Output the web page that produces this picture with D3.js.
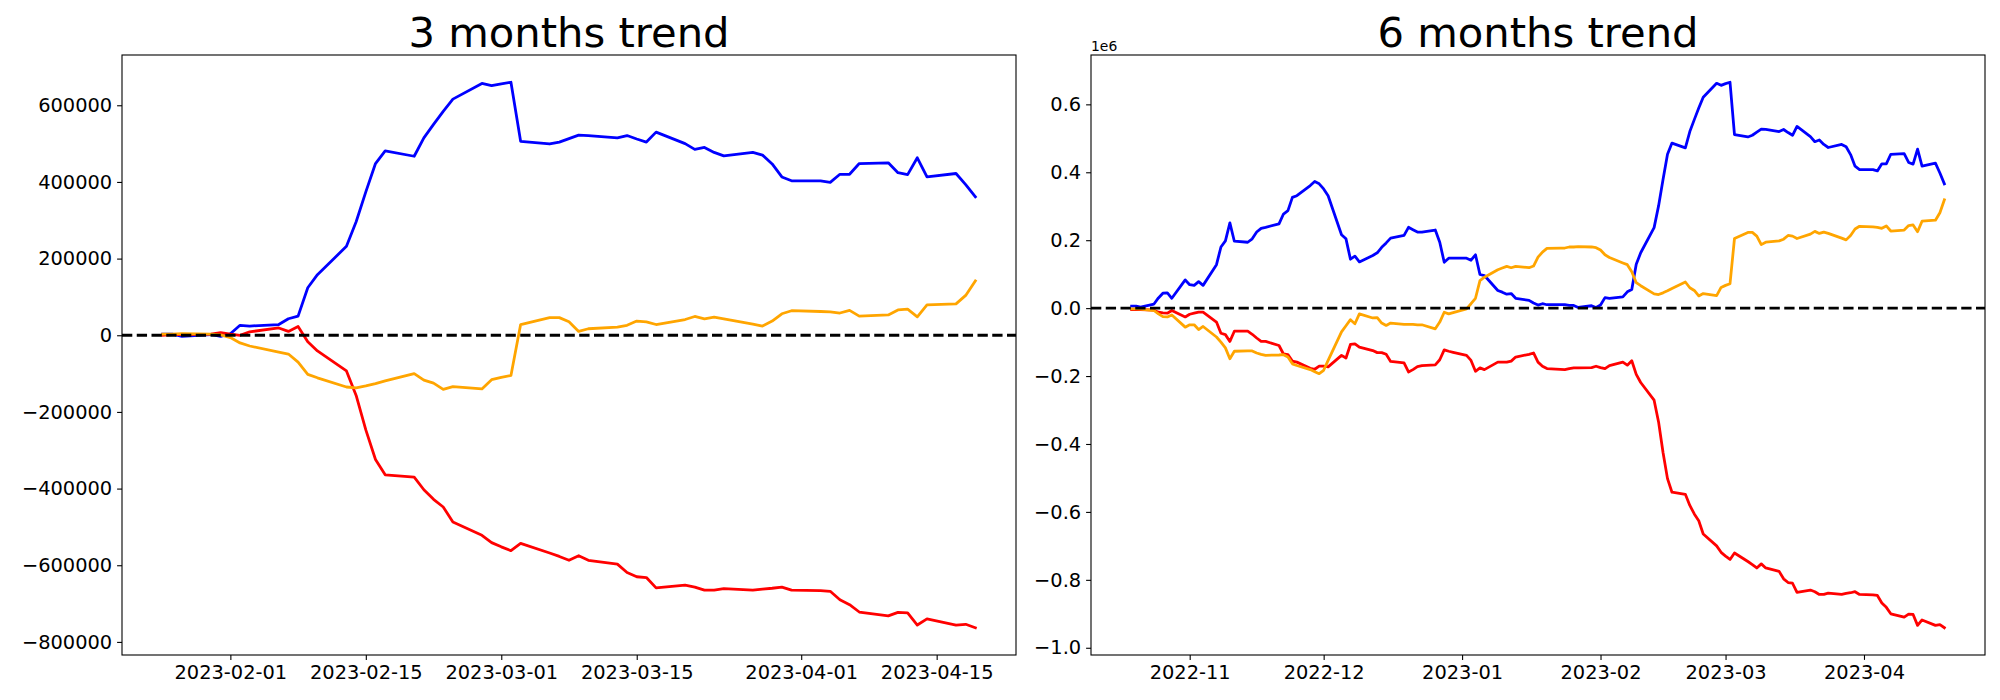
<!DOCTYPE html>
<html>
<head>
<meta charset="utf-8">
<script src="https://cdn.jsdelivr.net/npm/d3@7"></script>
<style>
  body { margin: 0; background: #fff; }
  text { font-family: "DejaVu Sans", sans-serif; }
</style>
</head>
<body>
<svg id="chart" width="2000" height="700"></svg>
<script>
// one value per weekday, in thousands
const weekdays = (a, b) => d3.utcDays(new Date(a), d3.utcDay.offset(new Date(b), 1))
    .filter(d => d.getUTCDay() % 6 !== 0);

const dates3m = weekdays("2023-01-25", "2023-04-19");
const dates6m = weekdays("2022-10-19", "2023-04-19");

const blue3m = [3, 3, -3, 2, -3,
    4, 26, 24, 28, 43, 50, 124, 158, 232, 296, 374, 448, 481, 467, 515, 550, 584, 616, 657, 651,
    656, 660, 506, 499, 504, 513, 522, 521, 515, 521, 512, 504, 530, 500, 485, 490, 477, 468, 477, 470, 447, 413, 403,
    403, 399, 420, 420, 448, 450, 424, 419, 463, 413, 422, 393, 361];
const orange3m = [3, 3, 4, 3, 1,
    -6, -20, -28, -44, -49, -70, -102, -111, -135, -137, -132, -126, -119, -100, -117, -125, -141, -134, -140, -116,
    -110, -105, 28, 46, 46, 35, 10, 17, 21, 26, 37, 35, 28, 41, 49, 43, 47, 43, 29, 24, 37, 56, 64,
    62, 61, 58, 65, 50, 53, 66, 68, 48, 79, 82, 104, 142];
const red3m = [0, 2, 2, 3, 7,
    3, 0, 9, 19, 10, 23, -17, -41, -93, -157, -247, -324, -364, -370, -403, -428, -448, -487, -522, -541,
    -552, -562, -543, -568, -577, -587, -575, -587, -597, -619, -630, -632, -659, -652, -657, -665, -665, -661, -665, -662, -660, -657, -665,
    -666, -668, -690, -703, -722, -732, -723, -724, -756, -740, -756, -754, -763];

const blue6m = [6, 6, 3, 12, 30, 44, 45, 29, 83,
    69, 67, 78, 67, 128, 180, 198, 251, 197, 194, 204, 224, 235, 238, 248, 277, 287, 326, 331, 361, 373, 366,
    351, 331, 216, 204, 144, 153, 136, 155, 163, 179, 192, 206, 214, 238, 231, 224, 224, 230, 194, 135, 147, 147,
    147, 141, 157, 99, 96, 52, 47, 41, 43, 29, 23, 15, 9, 13, 10, 10, 10,
    8, 8, 2, 7, 2,
    9, 31, 29, 33, 48, 55, 129, 163, 237, 301, 379, 453, 486, 472, 520, 555, 589, 621, 662, 656,
    661, 665, 511, 504, 509, 518, 527, 526, 520, 526, 517, 509, 535, 505, 490, 495, 482, 473, 482, 475, 452, 418, 408,
    408, 404, 425, 425, 453, 455, 429, 424, 468, 418, 427, 398, 366];
const orange6m = [-2, -2, -3, -7, -17, -25, -26, -20, -56,
    -49, -49, -63, -54, -85, -100, -117, -149, -127, -126, -126, -132, -136, -139, -138, -137, -144, -164, -169, -181, -187, -193,
    -183, -154, -70, -52, -34, -46, -17, -29, -28, -44, -51, -44, -48, -48, -48, -49, -49, -61, -41, -12, -17, -13,
    -2, 13, 29, 81, 91, 113, 118, 123, 119, 123, 119, 124, 150, 165, 176, 177, 177,
    180, 180, 181, 180, 178,
    171, 157, 149, 133, 128, 107, 75, 66, 42, 40, 45, 51, 58, 77, 60, 52, 36, 43, 37, 61,
    67, 72, 205, 223, 223, 212, 187, 194, 198, 203, 214, 212, 205, 218, 226, 220, 224, 220, 206, 201, 214, 233, 241,
    239, 238, 235, 242, 227, 230, 243, 245, 225, 256, 259, 281, 319];
const red6m = [-4, -4, -4, -6, -12, -14, -15, -7, -26,
    -18, -15, -12, -12, -41, -74, -78, -98, -68, -68, -77, -88, -98, -98, -110, -135, -137, -156, -159, -177, -180, -171,
    -171, -173, -139, -147, -107, -105, -115, -125, -131, -131, -136, -157, -161, -188, -181, -172, -169, -167, -152, -123, -127, -130,
    -139, -154, -186, -176, -181, -159, -159, -159, -156, -144, -136, -132, -159, -171, -178, -180, -181,
    -178, -176, -176, -175, -171,
    -175, -178, -169, -159, -168, -155, -195, -219, -271, -335, -425, -502, -542, -548, -581, -606, -626, -665, -700, -719,
    -730, -740, -721, -746, -755, -765, -753, -765, -775, -797, -808, -810, -837, -830, -835, -843, -843, -839, -843, -840, -838, -835, -843,
    -844, -846, -868, -881, -900, -910, -901, -902, -934, -918, -934, -932, -941];

const xTicks3m = ["2023-02-01", "2023-02-15", "2023-03-01", "2023-03-15", "2023-04-01", "2023-04-15"];
const xTicks6m = ["2022-11-01", "2022-12-01", "2023-01-01", "2023-02-01", "2023-03-01", "2023-04-01"];
const yTicks3m = [-800, -600, -400, -200, 0, 200, 400, 600];
const yTicks6m = [-1000, -800, -600, -400, -200, 0, 200, 400, 600];

const svg = d3.select("#chart");
svg.append("rect").attr("width", 2000).attr("height", 700).attr("fill", "#fff");

const plotTop = 55, plotBottom = 655;

// matplotlib-style 5% margins around the data
function padded(ext) {
    const span = ext[1] - ext[0];
    return [ext[0] - span * 0.05, +ext[1] + span * 0.05];
}

function drawPanel(p) {
    const w = p.right - p.left, h = plotBottom - plotTop;
    const g = svg.append("g").attr("transform", `translate(${p.left},${plotTop})`);

    const all = p.series.flatMap(s => s.values);
    const tx = padded(d3.extent(p.dates, d => +d));
    const x = d3.scaleUtc().domain([new Date(tx[0]), new Date(tx[1])]).range([0, w]);
    const y = d3.scaleLinear().domain(padded(d3.extent(all))).range([h, 0]);

    const xAxis = d3.axisBottom(x)
        .tickValues(p.xTicks.map(t => new Date(t)))
        .tickFormat(p.xFormat)
        .tickSize(4.9).tickPadding(4.9);
    const yAxis = d3.axisLeft(y)
        .tickValues(p.yTicks)
        .tickFormat(p.yFormat)
        .tickSize(4.9).tickPadding(4.9);

    const gx = g.append("g").attr("transform", `translate(0,${h})`).call(xAxis);
    const gy = g.append("g").call(yAxis);
    [gx, gy].forEach(a => {
        a.select(".domain").remove();
        a.selectAll("line").attr("stroke", "#000").attr("stroke-width", 1.1);
        a.selectAll("text").attr("fill", "#000").style("font-size", "19.4px")
            .style("font-family", "'DejaVu Sans', sans-serif");
    });

    const line = d3.line()
        .x((d, i) => x(p.dates[i]))
        .y(d => y(d));

    p.series.forEach(s => {
        g.append("path")
            .datum(s.values)
            .attr("fill", "none")
            .attr("stroke", s.color)
            .attr("stroke-width", 2.78)
            .attr("stroke-linejoin", "round")
            .attr("stroke-linecap", "square")
            .attr("d", line);
    });

    // zero reference line
    g.append("line")
        .attr("x1", 0).attr("x2", w)
        .attr("y1", y(0)).attr("y2", y(0))
        .attr("stroke", "#000")
        .attr("stroke-width", 2.78)
        .attr("stroke-dasharray", "10.3 4.45");

    g.append("rect")
        .attr("width", w).attr("height", h)
        .attr("fill", "none")
        .attr("stroke", "#000")
        .attr("stroke-width", 1.1);

    g.append("text")
        .attr("x", w / 2).attr("y", -8.3)
        .attr("text-anchor", "middle")
        .style("font-size", "41.7px")
        .text(p.title);

    if (p.offset) {
        g.append("text")
            .attr("x", 0).attr("y", -4.5)
            .style("font-size", "13.9px")
            .text(p.offset);
    }
}

drawPanel({
    left: 122, right: 1016,
    title: "3 months trend",
    dates: dates3m,
    series: [
        { values: blue3m, color: "blue" },
        { values: red3m, color: "red" },
        { values: orange3m, color: "orange" }
    ],
    xTicks: xTicks3m,
    xFormat: d3.utcFormat("%Y-%m-%d"),
    yTicks: yTicks3m,
    yFormat: d => d3.format("d")(d * 1000)
});

drawPanel({
    left: 1091, right: 1985,
    title: "6 months trend",
    dates: dates6m,
    series: [
        { values: blue6m, color: "blue" },
        { values: red6m, color: "red" },
        { values: orange6m, color: "orange" }
    ],
    xTicks: xTicks6m,
    xFormat: d3.utcFormat("%Y-%m"),
    yTicks: yTicks6m,
    yFormat: d => d3.format(".1f")(d / 1000),
    offset: "1e6"
});
</script>
</body>
</html>
